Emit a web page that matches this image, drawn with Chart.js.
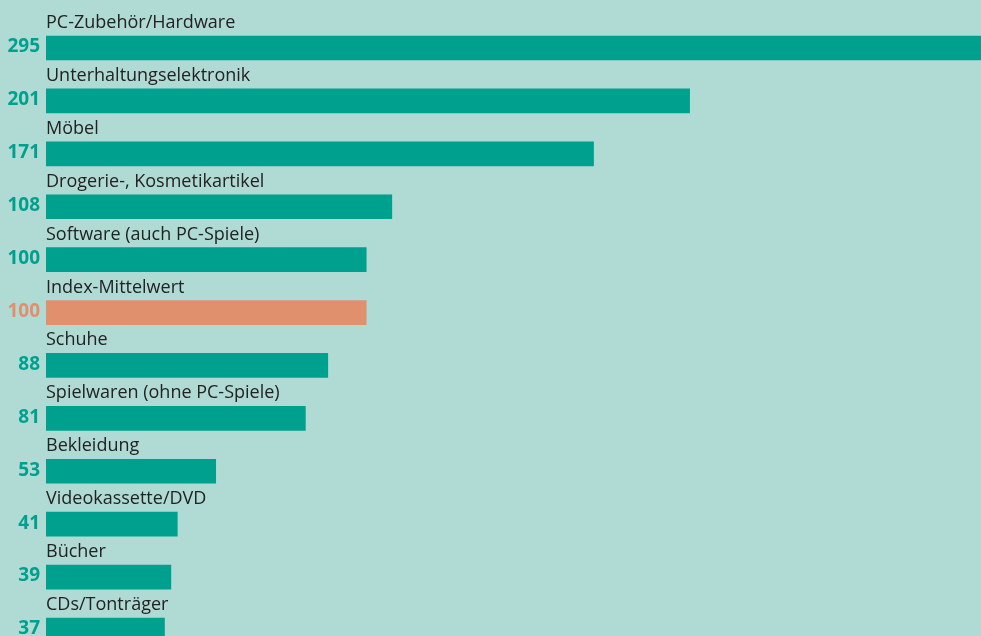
<!DOCTYPE html>
<html>
<head>
<meta charset="utf-8">
<script src="https://cdn.jsdelivr.net/npm/chart.js@4"></script>
<style>
  html, body { margin: 0; padding: 0; background: #b0dbd5; overflow: hidden; }
  #wrap { width: 981px; height: 636px; }
</style>
</head>
<body>
<div id="wrap"><canvas id="chart"></canvas></div>
<script>
const categories = [
  "PC-Zubehör/Hardware",
  "Unterhaltungselektronik",
  "Möbel",
  "Drogerie-, Kosmetikartikel",
  "Software (auch PC-Spiele)",
  "Index-Mittelwert",
  "Schuhe",
  "Spielwaren (ohne PC-Spiele)",
  "Bekleidung",
  "Videokassette/DVD",
  "Bücher",
  "CDs/Tonträger",
];
const indexValues = [295, 201, 171, 108, 100, 100, 88, 81, 53, 41, 39, 37];
const highlightIndex = 5;

const colors = {
  bar: "rgb(0, 160, 142)",
  highlight: "rgb(225, 144, 110)",
  text: "#222222",
};

const barColors = indexValues.map((v, i) => (i === highlightIndex ? colors.highlight : colors.bar));

// draws the category name above each bar and the value left of it
const labelPlugin = {
  id: "barLabels",
  afterDatasetsDraw(chart) {
    const ctx = chart.ctx;
    const meta = chart.getDatasetMeta(0);
    ctx.save();
    meta.data.forEach((bar, i) => {
      const top = bar.y - bar.height / 2;
      ctx.fillStyle = colors.text;
      ctx.font = "18px 'Open Sans'";
      ctx.textAlign = "left";
      ctx.textBaseline = "alphabetic";
      ctx.fillText(categories[i], bar.base, top - 8);

      ctx.fillStyle = barColors[i];
      ctx.font = "bold 19px 'Open Sans'";
      ctx.textAlign = "right";
      ctx.textBaseline = "middle";
      ctx.fillText(String(indexValues[i]), bar.base - 6, bar.y - 1);
    });
    ctx.restore();
  },
};

new Chart(document.getElementById("chart"), {
  type: "bar",
  data: {
    labels: categories,
    datasets: [
      {
        data: indexValues,
        backgroundColor: barColors,
        borderWidth: 0,
        barThickness: 24,
        clip: { left: 0, right: 0, top: false, bottom: false },
      },
    ],
  },
  options: {
    indexAxis: "y",
    responsive: true,
    maintainAspectRatio: false,
    animation: false,
    layout: {
      padding: { top: 48, bottom: 6, left: 46, right: 0 },
    },
    plugins: {
      legend: { display: false },
      tooltip: { enabled: false },
    },
    scales: {
      x: { display: false, min: 0, max: 292 },
      y: { display: false, offset: false },
    },
  },
  plugins: [labelPlugin],
});
</script>
</body>
</html>
